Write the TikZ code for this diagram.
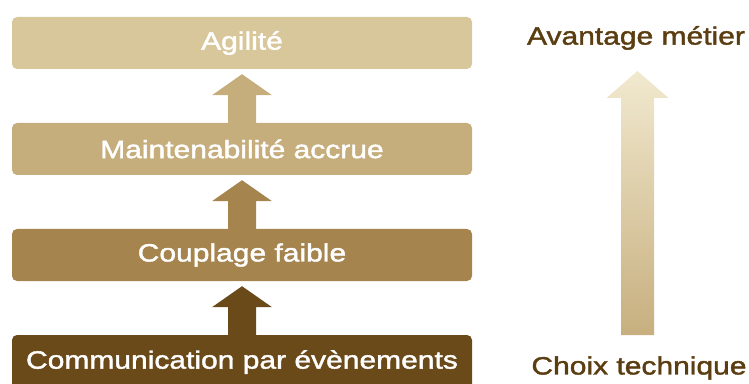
\documentclass[tikz,border=0pt]{standalone}
\usepackage{fontspec}
\setmainfont{Liberation Sans}[FakeStretch=1.2,FakeBold=1.6]
\usetikzlibrary{calc}
\usetikzlibrary{positioning}

\definecolor{levelA}{HTML}{D9C79C}
\definecolor{levelB}{HTML}{C6AE7C}
\definecolor{levelC}{HTML}{A5844E}
\definecolor{levelD}{HTML}{6B4A1A}
\definecolor{labelbrown}{HTML}{5A3D10}
\definecolor{gradtop}{HTML}{F1E9CF}
\definecolor{gradbot}{HTML}{C7AF7F}

% block arrow from the top of one box to just under the next one
\newcommand{\stepup}[3]{%
  \fill [#3] ($(#1.north)+(-14,0)$) -- ($(#2.south)+(-14,-26)$) -- ($(#2.south)+(-30,-26)$)
    -- ($(#2.south)+(0,-5)$) -- ($(#2.south)+(30,-26)$) -- ($(#2.south)+(14,-26)$)
    -- ($(#1.north)+(14,0)$) -- cycle;}

\begin{document}
\begin{tikzpicture}[x=1pt,y=1pt,
    level/.style={rectangle,rounded corners=5pt,minimum width=460pt,minimum height=52pt,
      inner sep=0pt,text=white,font=\fontsize{25}{30}\selectfont},
    side/.style={text=labelbrown,font=\fontsize{25}{30}\selectfont}]

  \useasboundingbox (0,0) rectangle (749,383);
  \clip (0,0) rectangle (749,383);

  \node [level,fill=levelA] (agil)  at (242,340) {Agilité};
  \node [level,fill=levelB] (maint) at (242,234) {Maintenabilité accrue};
  \node [level,fill=levelC] (coupl) at (242,128) {Couplage faible};
  \node [level,fill=levelD,minimum height=54pt] (comm) at (242,21) {Communication par évènements};

  \stepup{maint}{agil}{levelB}
  \stepup{coupl}{maint}{levelC}
  \stepup{comm}{coupl}{levelD}

  \node [side] (gain) at (636,345) {Avantage métier};
  \node [side] (tech) at (639,15) {Choix technique};

  \coordinate (base) at (637.5,48);
  \coordinate (tip)  at (637.5,312);
  \shade [top color=gradtop,bottom color=gradbot]
    ($(base)+(-16.5,0)$) -- ($(tip)+(-16.5,-27)$) -- ($(tip)+(-31,-27)$) -- (tip)
    -- ($(tip)+(31,-27)$) -- ($(tip)+(16.5,-27)$) -- ($(base)+(16.5,0)$) -- cycle;

\end{tikzpicture}
\end{document}
